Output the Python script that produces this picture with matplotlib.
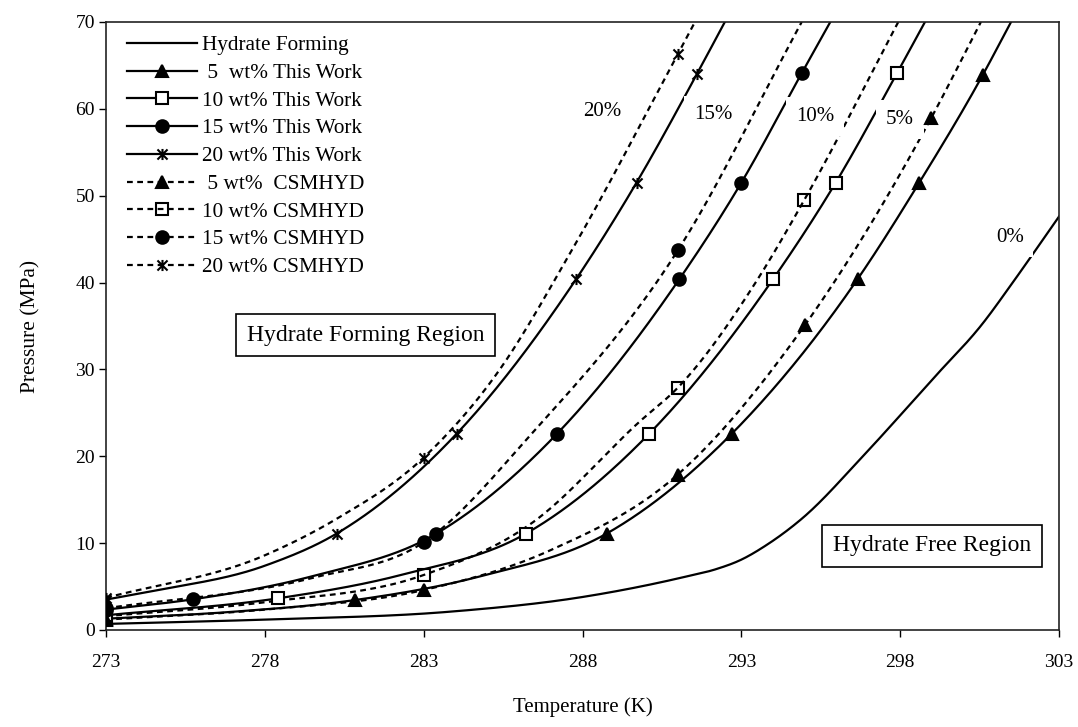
import numpy as np
import matplotlib
matplotlib.use("Agg")
import matplotlib.pyplot as plt
from matplotlib.path import Path
from matplotlib.lines import Line2D

plt.rcParams['font.family'] = ['Liberation Serif', 'DejaVu Serif']

# ---------------- data ----------------
# Hydrate forming curve (0 wt%), no markers
t_0 = [273, 278, 283.8, 288, 291.2, 292.2, 293.0, 293.8, 294.9, 296.9, 299.0, 300.6, 301.6, 303]
p_0 = [0.7, 1.2, 2.1, 3.8, 6.1, 7.0, 8.1, 9.8, 12.8, 20.3, 28.8, 35.3, 40.3, 47.6]

# This Work (solid lines): curve points (last one = exit at top of plot) and marker points
t_5_tw = [273, 277, 280.84, 284.8, 288.76, 292.7, 296.66, 298.6, 300.6, 301.49]
p_5_tw = [1.3, 2.1, 3.45, 6.2, 11.1, 22.6, 40.4, 51.5, 63.9, 70]
t_5_tw_mk = [273, 280.84, 288.76, 292.7, 296.66, 298.6, 300.6]
p_5_tw_mk = [1.3, 3.45, 11.1, 22.6, 40.4, 51.5, 63.9]

t_10_tw = [273, 278.42, 282.3, 286.22, 290.1, 294.0, 295.97, 297.9, 298.78]
p_10_tw = [1.7, 3.65, 6.35, 11.1, 22.6, 40.4, 51.5, 64.1, 70]
t_10_tw_mk = [273, 278.42, 286.22, 290.1, 294.0, 295.97, 297.9]
p_10_tw_mk = [1.7, 3.65, 11.1, 22.6, 40.4, 51.5, 64.1]

t_15_tw = [273, 275.73, 279.5, 283.4, 287.2, 291.05, 293.0, 294.9, 295.8]
p_15_tw = [2.35, 3.53, 6.2, 11.1, 22.6, 40.4, 51.5, 64.1, 70]
t_15_tw_mk = [273, 275.73, 283.4, 287.2, 291.05, 293.0, 294.9]
p_15_tw_mk = [2.35, 3.53, 11.1, 22.6, 40.4, 51.5, 64.1]

t_20_tw = [273, 274.5, 278, 280.26, 284.04, 287.8, 289.7, 291.6, 292.48]
p_20_tw = [3.5, 4.5, 7.4, 11.1, 22.6, 40.4, 51.5, 64.0, 70]
t_20_tw_mk = [273, 280.26, 284.04, 287.8, 289.7, 291.6]
p_20_tw_mk = [3.5, 11.1, 22.6, 40.4, 51.5, 64.0]

# CSMHYD (dashed lines)
t_5_cs = [273, 278, 283.0, 287, 291.0, 295.0, 298.97, 300.54]
p_5_cs = [1.2, 2.35, 4.6, 9.2, 17.9, 35.1, 58.9, 70]
t_5_cs_mk = [273, 283.0, 291.0, 295.0, 298.97]
p_5_cs_mk = [1.2, 4.6, 17.9, 35.1, 58.9]

t_10_cs = [273, 278, 283.0, 286.4, 289.8, 291.0, 293.5, 294.98, 297.94]
p_10_cs = [1.6, 3.2, 6.33, 12.3, 24.0, 27.9, 40.3, 49.5, 70]
t_10_cs_mk = [273, 283.0, 291.0, 294.98]
p_10_cs_mk = [1.6, 6.33, 27.9, 49.5]

t_15_cs = [273, 279.5, 283.0, 286.4, 291.0, 294.9]
p_15_cs = [2.5, 6.0, 10.1, 22.6, 43.7, 70]
t_15_cs_mk = [273, 283.0, 291.0]
p_15_cs_mk = [2.5, 10.1, 43.7]

t_20_cs = [273, 278, 280.26, 283, 285.3, 287.66, 291.0, 291.54]
p_20_cs = [3.7, 8.6, 12.8, 19.85, 29.5, 43.7, 66.3, 70]
t_20_cs_mk = [273, 283.0, 291.0]
p_20_cs_mk = [3.7, 19.85, 66.3]

legend_labels = ["Hydrate Forming", " 5  wt% This Work", "10 wt% This Work",
                 "15 wt% This Work", "20 wt% This Work", " 5 wt%  CSMHYD",
                 "10 wt% CSMHYD", "15 wt% CSMHYD", "20 wt% CSMHYD"]
curve_labels = ["20%", "15%", "10%", "5%", "0%"]
curve_label_t = [288.63, 292.11, 295.32, 297.99, 301.45]
curve_label_p = [59.7, 59.3, 59.1, 58.8, 45.2]

x_ticks = [273, 278, 283, 288, 293, 298, 303]
y_ticks = [0, 10, 20, 30, 40, 50, 60, 70]


def smooth(t, p, n=60):
    """Smooth drawing of a curve through the given points (cubic Hermite in T,
    non-uniform three-point tangents, monotonicity-preserving)."""
    x = np.asarray(t, float)
    y = np.asarray(p, float)
    h = np.diff(x)
    d = np.diff(y) / h
    m = np.empty_like(y)
    m[0] = d[0]
    m[-1] = d[-1]
    for i in range(1, len(x) - 1):
        m[i] = (d[i - 1] * h[i] + d[i] * h[i - 1]) / (h[i - 1] + h[i])
    for i in range(len(d)):
        if d[i] > 0:
            a, b = m[i] / d[i], m[i + 1] / d[i]
            r = a * a + b * b
            if r > 9:
                tau = 3 / np.sqrt(r)
                m[i] = tau * a * d[i]
                m[i + 1] = tau * b * d[i]
    xs, ys = [], []
    s = np.linspace(0, 1, n, endpoint=False)
    for i in range(len(h)):
        h00 = 2 * s**3 - 3 * s**2 + 1
        h10 = s**3 - 2 * s**2 + s
        h01 = -2 * s**3 + 3 * s**2
        h11 = s**3 - s**2
        xs.append(x[i] + s * h[i])
        ys.append(h00 * y[i] + h10 * h[i] * m[i] + h01 * y[i + 1] + h11 * h[i] * m[i + 1])
    xs.append(x[-1:])
    ys.append(y[-1:])
    return np.concatenate(xs), np.concatenate(ys)


star = Path([(-1, -1), (1, 1), (-1, 1), (1, -1), (0, -1.1), (0, 1.1)],
            [Path.MOVETO, Path.LINETO, Path.MOVETO, Path.LINETO, Path.MOVETO, Path.LINETO])

fig = plt.figure(figsize=(10.78, 7.27), dpi=100)
ax = fig.add_axes([106 / 1078, 1 - 630 / 727, 953 / 1078, 608 / 727])

lw = 1.6
dash = (2.6, 2.0)

xs, ys = smooth(t_0, p_0)
ax.plot(xs, ys, color='black', lw=lw)

series = [
    (t_5_tw, p_5_tw, t_5_tw_mk, p_5_tw_mk, '-', '^', 'black', 9),
    (t_10_tw, p_10_tw, t_10_tw_mk, p_10_tw_mk, '-', 's', 'white', 8),
    (t_15_tw, p_15_tw, t_15_tw_mk, p_15_tw_mk, '-', 'o', 'black', 9),
    (t_20_tw, p_20_tw, t_20_tw_mk, p_20_tw_mk, '-', star, 'black', 8),
    (t_5_cs, p_5_cs, t_5_cs_mk, p_5_cs_mk, '--', '^', 'black', 9),
    (t_10_cs, p_10_cs, t_10_cs_mk, p_10_cs_mk, '--', 's', 'none', 8),
    (t_15_cs, p_15_cs, t_15_cs_mk, p_15_cs_mk, '--', 'o', 'black', 9),
    (t_20_cs, p_20_cs, t_20_cs_mk, p_20_cs_mk, '--', star, 'black', 8),
]

handles = [Line2D([], [], color='black', lw=lw)]
for t, p, tm, pm, ls, mk, fc, ms in series:
    xs, ys = smooth(t, p)
    line, = ax.plot(xs, ys, color='black', lw=lw, ls=ls)
    if ls == '--':
        line.set_dashes(dash)
    ax.plot(tm, pm, ls='none', marker=mk, ms=ms, mfc=fc, mec='black', mew=1.5, zorder=3)
    h = Line2D([], [], color='black', lw=lw, ls=ls, marker=mk, ms=ms, mfc=fc, mec='black', mew=1.5)
    if ls == '--':
        h.set_dashes(dash)
    handles.append(h)

for lab, t, p in zip(curve_labels, curve_label_t, curve_label_p):
    ax.text(t, p, lab, fontsize=15, ha='center', va='center', zorder=2.5,
            bbox=dict(facecolor='white', edgecolor='none', pad=7))

ax.text(281.17, 33.96, "Hydrate Forming Region", fontsize=17, ha='center', va='center', zorder=4,
        bbox=dict(facecolor='white', edgecolor='black', lw=1.2, boxstyle='square,pad=0.45'))
ax.text(299.0, 9.7, "Hydrate Free Region", fontsize=17, ha='center', va='center', zorder=4,
        bbox=dict(facecolor='white', edgecolor='black', lw=1.2, boxstyle='square,pad=0.45'))

leg = ax.legend(handles, legend_labels, loc='upper left', bbox_to_anchor=(0.0217, 0.978),
                frameon=False, fontsize=15.3, handlelength=3.3, handletextpad=0.25,
                labelspacing=0.37, numpoints=1, borderpad=0, borderaxespad=0)

ax.set_xlim(273, 303)
ax.set_ylim(0, 70)
ax.set_xticks(x_ticks)
ax.set_yticks(y_ticks)
ax.tick_params(direction='out', length=5, width=1, labelsize=14, colors='black')
ax.tick_params(axis='x', pad=12)
ax.tick_params(axis='y', pad=3)
for s in ax.spines.values():
    s.set_linewidth(1.2)
    s.set_color('#222222')

ax.set_xlabel("Temperature (K)", fontsize=15, labelpad=19)
ax.set_ylabel("Pressure (MPa)", fontsize=15.5, labelpad=25)

fig.savefig("out.png", dpi=100)
